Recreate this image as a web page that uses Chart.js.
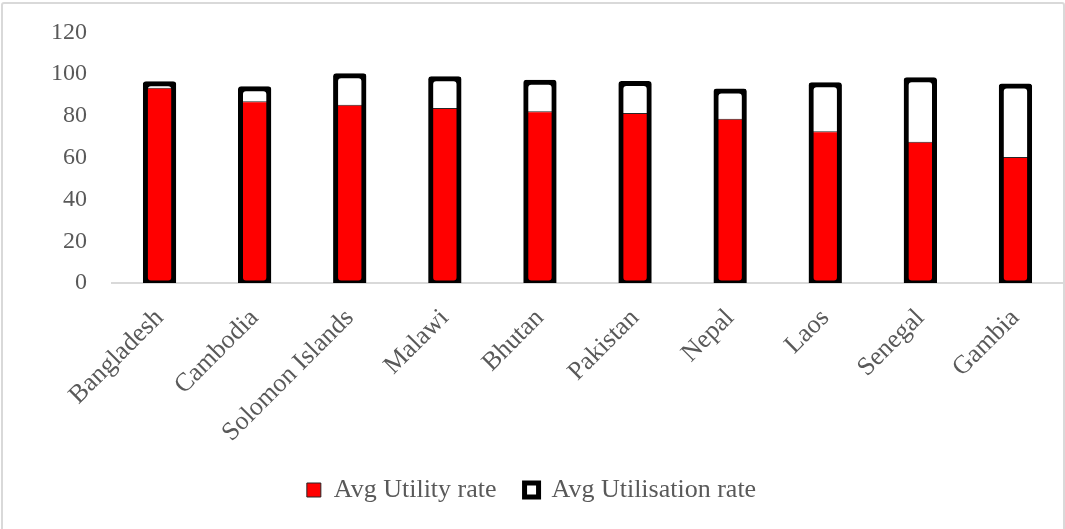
<!DOCTYPE html>
<html>
<head>
<meta charset="utf-8">
<title>Avg Utility and Utilisation rate by country</title>
<script src="https://cdn.jsdelivr.net/npm/chart.js@4/dist/chart.umd.min.js"></script>
<style>
  html, body { margin: 0; padding: 0; background: #ffffff; }
  #wrap { position: relative; width: 1065px; height: 529px; overflow: hidden; }
  #frame {
    position: absolute; left: 1px; top: 2px; width: 1064px; height: 600px;
    box-sizing: border-box; border: 2px solid #d9d9d9; border-radius: 3px;
  }
  #c { position: absolute; left: 0; top: 0; }
</style>
</head>
<body>
<div id="wrap">
  <div id="frame"></div>
  <canvas id="c" width="1065" height="529"></canvas>
</div>
<script>
// Countries along the x axis
const countries = ['Bangladesh', 'Cambodia', 'Solomon Islands', 'Malawi', 'Bhutan',
                   'Pakistan', 'Nepal', 'Laos', 'Senegal', 'Gambia'];
// Average utility rate (%)
const utilityRate = [93.5, 87.0, 85.4, 83.8, 82.2, 81.4, 78.7, 72.7, 67.7, 60.4];
// Average utilisation rate (%)
const utilisationRate = [95.4, 93.0, 99.3, 97.8, 96.2, 95.5, 91.9, 95.0, 97.4, 94.3];
// Y axis range and step
const yMin = 0;
const yMax = 120;
const yStep = 20;

const FONT = "'Liberation Serif', 'Times New Roman', serif";
const TEXT = '#595959';
// Outline thickness of the utilisation bars (centred on the bar edge)
const OUTLINE = 5;

function draw() {
  const baseLabels = Chart.defaults.plugins.legend.labels.generateLabels;
  new Chart(document.getElementById('c'), {
    type: 'bar',
    data: {
      labels: countries,
      datasets: [
        {
          label: 'Avg Utility rate',
          data: utilityRate,
          backgroundColor: '#ff0000',
          borderColor: '#262626',
          borderWidth: 1,
          borderSkipped: 'bottom',
          inflateAmount: 0,
          order: 2
        },
        {
          label: 'Avg Utilisation rate',
          data: utilisationRate,
          backgroundColor: 'rgba(255,255,255,0)',
          borderColor: '#000000',
          // a hairline border grown outward and inward by half the outline
          borderWidth: 0.01,
          borderSkipped: false,
          borderRadius: 3,
          inflateAmount: OUTLINE / 2,
          order: 1
        }
      ]
    },
    options: {
      responsive: false,
      animation: false,
      events: [],
      grouped: false,
      categoryPercentage: 1,
      barPercentage: 0.298,
      layout: { padding: { top: 10, right: 2, bottom: 16, left: 0 } },
      plugins: {
        tooltip: { enabled: false },
        legend: {
          position: 'bottom',
          labels: {
            font: { family: FONT, size: 26 },
            color: TEXT,
            boxWidth: 14,
            boxHeight: 14,
            padding: 28,
            sort: (a, b) => a.datasetIndex - b.datasetIndex,
            generateLabels: (chart) => baseLabels(chart).map((item) => {
              if (item.datasetIndex === 1) {
                item.lineWidth = OUTLINE;
                item.fillStyle = '#ffffff';
              }
              return item;
            })
          }
        }
      },
      scales: {
        x: {
          grid: { display: false, drawTicks: false },
          border: { display: true, color: '#d9d9d9', width: 2 },
          ticks: {
            font: { family: FONT, size: 26 },
            color: TEXT,
            minRotation: 45,
            maxRotation: 45,
            autoSkip: false,
            padding: 20
          },
          afterFit: (s) => { s.height = 166; }
        },
        y: {
          min: yMin,
          max: yMax,
          grid: { display: false, drawTicks: false },
          border: { display: false },
          ticks: {
            stepSize: yStep,
            // compact line height keeps the top label's reserved space small
            font: { family: FONT, size: 24, lineHeight: 0.62 },
            color: TEXT,
            padding: 25
          },
          afterFit: (s) => { s.width = 112; }
        }
      }
    }
  });
}

if (document.fonts && document.fonts.load) {
  document.fonts.load("24px 'Liberation Serif'").then(draw, draw);
} else {
  draw();
}
</script>
</body>
</html>
